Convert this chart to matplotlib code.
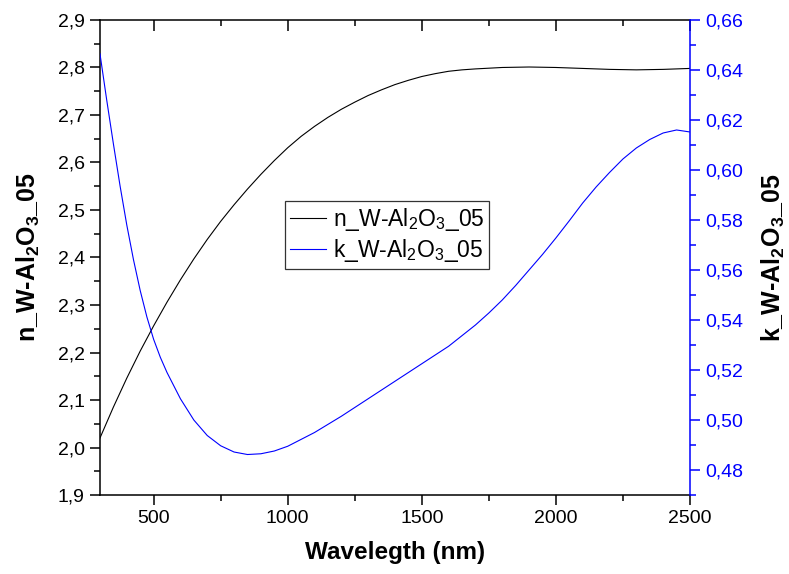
import matplotlib
matplotlib.use("Agg")
import matplotlib.pyplot as plt
from matplotlib.ticker import MultipleLocator, FuncFormatter

plt.rcParams['font.family'] = ['Liberation Sans', 'DejaVu Sans']
plt.rcParams['mathtext.fontset'] = 'custom'
plt.rcParams['mathtext.rm'] = 'Liberation Sans'
plt.rcParams['mathtext.it'] = 'Liberation Sans:italic'
plt.rcParams['mathtext.bf'] = 'Liberation Sans:bold'

# refractive index n and extinction coefficient k vs wavelength
wl_n = [300, 350, 400, 450, 500, 550, 600, 650, 700, 750, 800, 850, 900,
        950, 1000, 1050, 1100, 1150, 1200, 1250, 1300, 1350, 1400, 1450,
        1500, 1550, 1600, 1650, 1700, 1800, 1900, 2000, 2100, 2200, 2300,
        2400, 2500]
n_vals = [2.020, 2.085, 2.146, 2.203, 2.256, 2.306, 2.353, 2.397, 2.438,
          2.476, 2.511, 2.544, 2.575, 2.604, 2.631, 2.655, 2.676, 2.695,
          2.712, 2.727, 2.741, 2.753, 2.764, 2.773, 2.781, 2.787, 2.792,
          2.795, 2.797, 2.800, 2.801, 2.800, 2.798, 2.796, 2.795, 2.796,
          2.798]

wl_k = [300, 325, 350, 375, 400, 425, 450, 475, 500, 525, 550, 600, 650,
        700, 750, 800, 850, 900, 950, 1000, 1100, 1200, 1300, 1400, 1500,
        1600, 1700, 1750, 1800, 1850, 1900, 1950, 2000, 2050, 2100, 2150,
        2200, 2250, 2300, 2350, 2400, 2450, 2500]
k_vals = [0.6465, 0.6281, 0.6105, 0.5936, 0.5780, 0.5641, 0.5518, 0.5412,
          0.5323, 0.5251, 0.5190, 0.5085, 0.5000, 0.4938, 0.4897, 0.4872,
          0.4862, 0.4865, 0.4876, 0.4895, 0.4950, 0.5015, 0.5085, 0.5155,
          0.5225, 0.5295, 0.5380, 0.5428, 0.5480, 0.5538, 0.5600, 0.5662,
          0.5728, 0.5797, 0.5868, 0.5932, 0.5990, 0.6044, 0.6088, 0.6122,
          0.6148, 0.6160, 0.6152]

blue = '#0000ff'
comma = lambda fmt: FuncFormatter(lambda v, p: (fmt % v).replace('.', ','))

fig = plt.figure(figsize=(7.89, 5.74), dpi=100)
ax = fig.add_axes([0.1267, 0.1376, 0.7478, 0.8276])
ax2 = ax.twinx()

l1, = ax.plot(wl_n, n_vals, color='black', lw=0.8, label='n_W-Al$_2$O$_3$_05')
l2, = ax2.plot(wl_k, k_vals, color=blue, lw=0.8, label='k_W-Al$_2$O$_3$_05')

ax.set_xlim(300, 2500)
ax.set_ylim(1.9, 2.9)
ax2.set_ylim(0.47, 0.66)

ax.xaxis.set_major_locator(MultipleLocator(500))
ax.xaxis.set_minor_locator(MultipleLocator(250))
ax.yaxis.set_major_locator(MultipleLocator(0.1))
ax.yaxis.set_minor_locator(MultipleLocator(0.05))
ax.yaxis.set_major_formatter(comma('%.1f'))
ax2.yaxis.set_major_locator(MultipleLocator(0.02))
ax2.yaxis.set_minor_locator(MultipleLocator(0.01))
ax2.yaxis.set_major_formatter(comma('%.2f'))

ax.tick_params(which='major', direction='out', length=7, width=1.1, labelsize=14,
               pad=4)
ax.tick_params(which='minor', direction='out', length=4, width=1.1)
ax2.tick_params(which='major', direction='out', length=7, width=1.1, labelsize=14,
                colors=blue, pad=4)
ax2.tick_params(which='minor', direction='out', length=4, width=1.1, colors=blue)

# top axis: inward ticks, no labels
top = ax.secondary_xaxis('top')
top.xaxis.set_major_locator(MultipleLocator(500))
top.xaxis.set_minor_locator(MultipleLocator(250))
top.tick_params(which='major', direction='in', length=8, width=1.1, labeltop=False)
top.tick_params(which='minor', direction='in', length=4, width=1.1)
top.spines['top'].set_linewidth(1.1)

for s in ['left', 'bottom']:
    ax.spines[s].set_linewidth(1.1)
ax.spines['right'].set_visible(False)
ax.spines['top'].set_visible(False)
for s in ['left', 'bottom', 'top']:
    ax2.spines[s].set_visible(False)
ax2.spines['right'].set_color(blue)
ax2.spines['right'].set_linewidth(1.1)

ax.set_xlabel('Wavelegth (nm)', fontsize=17.5, fontweight='bold', labelpad=10)
ax.set_ylabel(r'n_W-Al$_\mathbf{2}$O$_\mathbf{3}$_05', fontsize=18,
              fontweight='bold', labelpad=11)
ax2.set_ylabel(r'k_W-Al$_\mathbf{2}$O$_\mathbf{3}$_05', fontsize=18,
               fontweight='bold', labelpad=12)

leg = ax.legend([l1, l2], [l1.get_label(), l2.get_label()], loc='upper left',
                bbox_to_anchor=(0.3136, 0.619), fontsize=16.5, frameon=True,
                fancybox=False, edgecolor='#333333', framealpha=1,
                handlelength=1.6, handletextpad=0.3, borderpad=0.2,
                labelspacing=0.2, borderaxespad=0)
leg.get_frame().set_linewidth(0.9)

fig.savefig('out.png', dpi=100)
